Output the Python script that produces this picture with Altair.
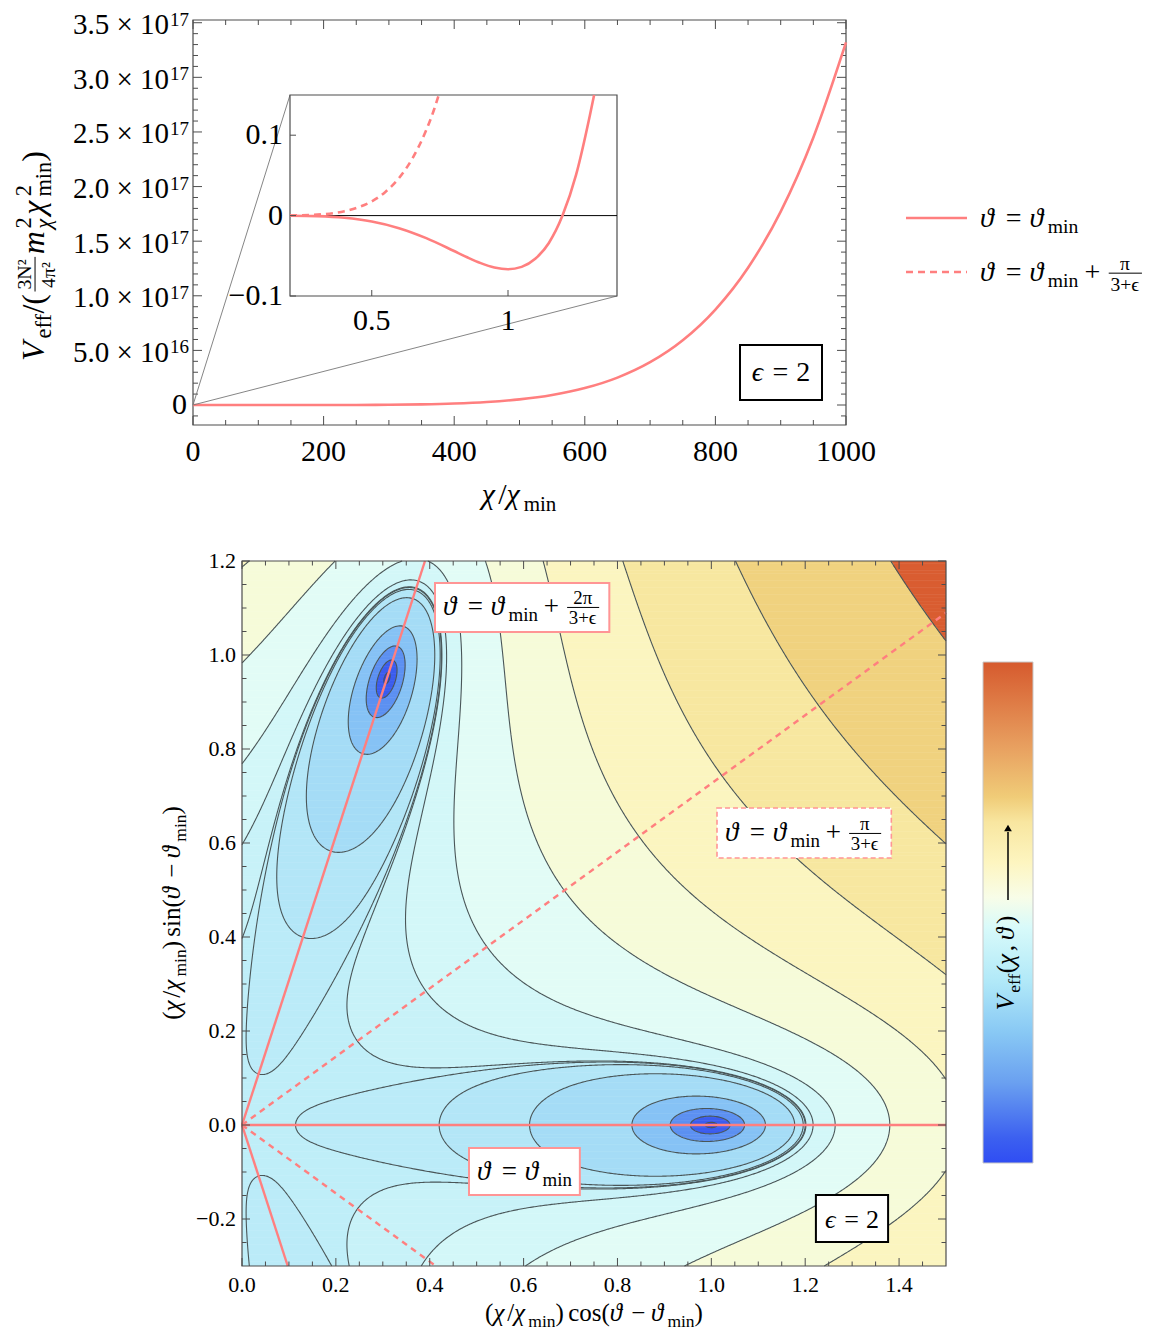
import math
import numpy as np
import pandas as pd
import altair as alt

alt.data_transformers.disable_max_rows()
FONT = "Liberation Serif"
PINK = "#ff7f7f"
FRAME = "#4d4d4d"

# ===================== values =====================
# top panel, main axes: V_eff along theta = theta_min, in units of 1e17
chi_main = [0, 100, 200, 250, 300, 350, 400, 450, 500, 550, 600, 650, 700, 750, 800, 850, 900, 950, 1000]
veff_main = [0.0, 0.0, 0.0002, 0.0008, 0.0024, 0.0061, 0.0137, 0.0277, 0.052, 0.092, 0.155, 0.251,
             0.392, 0.593, 0.874, 1.257, 1.771, 2.450, 3.32]
# inset, theta = theta_min (solid)
chi_inset_a = [0.2, 0.3, 0.4, 0.5, 0.6, 0.7, 0.8, 0.85, 0.9, 0.95, 1.0, 1.05, 1.1, 1.15, 1.2, 1.25, 1.3, 1.316]
veff_inset_a = [-0.0001, -0.0007, -0.0027, -0.0073, -0.0156, -0.0280, -0.0437, -0.0518, -0.0591, -0.0645,
                -0.0667, -0.0638, -0.0537, -0.0340, 0.0, 0.0509, 0.1239, 0.150]
# inset, theta = theta_min + pi/(3+eps) (dashed)
chi_inset_b = [0.2, 0.3, 0.4, 0.45, 0.5, 0.55, 0.6, 0.65, 0.7, 0.73, 0.745]
veff_inset_b = [0.0002, 0.0012, 0.0055, 0.0102, 0.0177, 0.0294, 0.0467, 0.0715, 0.1064, 0.1332, 0.149]

top_x_major = [0, 200, 400, 600, 800, 1000]
top_x_labels = ["0", "200", "400", "600", "800", "1000"]
top_x_minor = [v for v in range(50, 1000, 50) if v % 200]
top_y_major = [0, 0.5, 1.0, 1.5, 2.0, 2.5, 3.0, 3.5]
top_y_base = ["5.0 \u00d7 10", "1.0 \u00d7 10", "1.5 \u00d7 10", "2.0 \u00d7 10", "2.5 \u00d7 10",
              "3.0 \u00d7 10", "3.5 \u00d7 10"]
top_y_exp = ["16", "17", "17", "17", "17", "17", "17"]
top_y_minor = [round(0.1 * k, 1) for k in range(-1, 36) if k % 5]
inset_x_ticks = [0.5, 1.0]
inset_x_labels = ["0.5", "1"]
inset_y_ticks = [0.1, 0.0, -0.1]
inset_y_labels = ["0.1", "0", "\u22120.1"]

# bottom panel: V = C6 chi^6 - C5 chi^5 cos((3+eps) theta)
EPS = 2
N_SYM = 3 + EPS
C6 = 1 / 3      # V(1000) ~ 3.33e17
C5 = 0.4        # minimum -1/15 at chi = 1, zero crossing at chi = 1.2
levels = [-0.0665, -0.0649, -0.0606, -0.0487, -0.0169, -0.0034, -0.000007, 0.0013, 0.015,
          0.0687, 0.301, 0.933, 2.65, 7.32, 20.0]
band_colors = ["#2a3fe6", "#3b5cee", "#5c90f1", "#86c2f5", "#a5dcf6", "#b3e6f7", "#bbebf8", "#bfeef8",
               "#c8f2f8", "#d3f7f8", "#e2fcf6", "#f6fbd9", "#fbf5c0", "#f7e7a0", "#f0d27f", "#d95d31"]
bot_x_major = [0.0, 0.2, 0.4, 0.6, 0.8, 1.0, 1.2, 1.4]
bot_x_labels = ["0.0", "0.2", "0.4", "0.6", "0.8", "1.0", "1.2", "1.4"]
bot_x_minor = [round(0.05 * k, 2) for k in range(1, 30) if k % 4]
bot_y_major = [-0.2, 0.0, 0.2, 0.4, 0.6, 0.8, 1.0, 1.2]
bot_y_labels = ["\u22120.2", "0.0", "0.2", "0.4", "0.6", "0.8", "1.0", "1.2"]
bot_y_minor = [round(0.05 * k, 2) for k in range(-5, 24) if k % 4]
ray_solid_deg = [0, 72, -72]
ray_dashed_deg = [36, -36]
cbar_offsets = [0.0, 0.05, 0.16, 0.26, 0.36, 0.47, 0.53, 0.60, 0.68, 0.73, 0.83, 1.0]
cbar_colors = ["#2f4df3", "#3c60f0", "#6aa0f0", "#88c8f4", "#b0e8f8", "#d8fafa", "#f8fde8",
               "#fdf5c0", "#f8e6a0", "#f0cc78", "#e8a060", "#d65a2e"]

# ===================== canvas (one group; page coords minus 8px margin) =====================
WG, HG = 1147, 1324
TX0, TX1, TY0, TY1 = 185, 838, 12, 417          # top panel frame
IX0, IX1, IY0, IY1 = 282, 609, 87, 288          # inset frame
BX0, BX1, BY0, BY1 = 234, 938, 553, 1258        # bottom panel frame
YT_LO, YT_HI = -0.183, 3.525
sx_top = alt.Scale(domain=[0, 1000], range=[TX0, TX1], nice=False, zero=False)
sy_top = alt.Scale(domain=[YT_LO, YT_HI], range=[TY1, TY0], nice=False, zero=False)
sx_in = alt.Scale(domain=[0.2, 1.4], range=[IX0, IX1], nice=False, zero=False)
sy_in = alt.Scale(domain=[-0.1, 0.15], range=[IY1, IY0], nice=False, zero=False)
sx_b = alt.Scale(domain=[0, 1.5], range=[BX0, BX1], nice=False, zero=False)
sy_b = alt.Scale(domain=[-0.3, 1.2], range=[BY1, BY0], nice=False, zero=False)

# ===================== text composition helper =====================
EM = {' ': 0.25, '.': 0.25, ',': 0.25, '=': 0.564, '+': 0.564, '\u2212': 0.564, '\u00d7': 0.564,
      '(': 0.333, ')': 0.333, '/': 0.278, 'm': 0.778, 'i': 0.278, 'n': 0.5, 'e': 0.444, 'f': 0.333,
      'c': 0.444, 'o': 0.5, 's': 0.389, 'N': 0.722, 'V': 0.68, '\u03c0': 0.55, '\u03c7': 0.55,
      '\u03d1': 0.64, '\u03f5': 0.46, '\u00b2': 0.33}


def wtxt(s, size):
    return sum(EM.get(c, 0.5) for c in s) * size


def compose(parts, x0, y0, S, angle=0, anchor="left", fr=0.7):
    items, bars = [], []
    a = 0.0
    for p in parts:
        k = p[0]
        if k == "t":
            items.append((p[1], p[2], S, a, 0.0))
            a += wtxt(p[1], S)
        elif k == "sp":
            a += p[1] * S
        elif k == "sub":
            sz = 0.7 * S
            items.append((p[1], p[2], sz, a + 0.02 * S, -0.22 * S))
            a += wtxt(p[1], sz) + 0.02 * S
        elif k == "sup":
            sz = 0.7 * S
            items.append((p[1], p[2], sz, a + 0.03 * S, 0.42 * S))
            if p[3]:
                a += wtxt(p[1], sz) + 0.03 * S
        elif k == "frac":
            sz = fr * S
            wn, wd = wtxt(p[1], sz), wtxt(p[2], sz)
            fw = max(wn, wd) + 0.12 * S
            a += 0.08 * S
            items.append((p[1], "n", sz, a + (fw - wn) / 2, 0.41 * S))
            items.append((p[2], "n", sz, a + (fw - wd) / 2, -0.34 * S))
            bars.append((a, a + fw, 0.28 * S))
            a += fw + 0.08 * S
    total = a
    shift = -total / 2 if anchor == "center" else 0.0
    th = math.radians(angle)
    ux, uy = round(math.cos(th), 9), round(math.sin(th), 9)
    vx, vy = round(math.sin(th), 9), round(-math.cos(th), 9)
    rows = [dict(x=x0 + (ai + shift) * ux + up * vx, y=y0 + (ai + shift) * uy + up * vy,
                 text=s, size=sz, angle=angle, style=st) for (s, st, sz, ai, up) in items]
    brs = [dict(x=x0 + (a1 + shift) * ux + up * vx, y=y0 + (a1 + shift) * uy + up * vy,
                x2=x0 + (a2 + shift) * ux + up * vx, y2=y0 + (a2 + shift) * uy + up * vy)
           for (a1, a2, up) in bars]
    return rows, brs, total


def text_layers(rows, bars):
    df = pd.DataFrame(rows)
    out = []
    for st, fs in (("i", "italic"), ("n", "normal")):
        d = df[df["style"] == st]
        if len(d) == 0:
            continue
        out.append(alt.Chart(d).mark_text(font=FONT, fontStyle=fs, align="left", baseline="alphabetic",
                                          color="black").encode(
            x=alt.X("x:Q", scale=None), y=alt.Y("y:Q", scale=None), text="text:N",
            size=alt.Size("size:Q", scale=None, legend=None), angle=alt.Angle("angle:Q", scale=None)))
    if bars:
        out.append(alt.Chart(pd.DataFrame(bars)).mark_rule(color="black", strokeWidth=1).encode(
            x=alt.X("x:Q", scale=None), y=alt.Y("y:Q", scale=None), x2="x2:Q", y2="y2:Q"))
    return out


ONE = pd.DataFrame({"a": [0]})


def vrect(x1, y1, x2, y2, **kw):
    return alt.Chart(ONE).mark_rect(**kw).encode(x=alt.value(x1), x2=alt.value(x2),
                                                 y=alt.value(y1), y2=alt.value(y2))


def vrule(x1, y1, x2, y2, **kw):
    return alt.Chart(ONE).mark_rule(**kw).encode(x=alt.value(x1), x2=alt.value(x2),
                                                 y=alt.value(y1), y2=alt.value(y2))


def xticks(vals, sx, y_edge, L):
    return alt.Chart(pd.DataFrame({"v": vals})).mark_rule(color=FRAME, strokeWidth=1).encode(
        x=alt.X("v:Q", scale=sx, axis=None), y=alt.value(y_edge), y2=alt.value(y_edge + L))


def yticks(vals, sy, x_edge, L):
    return alt.Chart(pd.DataFrame({"v": vals})).mark_rule(color=FRAME, strokeWidth=1).encode(
        y=alt.Y("v:Q", scale=sy, axis=None), x=alt.value(x_edge), x2=alt.value(x_edge + L))


def frame_ticks(sx, sy, x0, x1, y0, y1, xmaj, xmin, ymaj, ymin, Lmaj, Lmin):
    out = []
    for vals, L in ((xmaj, Lmaj), (xmin, Lmin)):
        out += [xticks(vals, sx, y1, -L), xticks(vals, sx, y0, L)]
    for vals, L in ((ymaj, Lmaj), (ymin, Lmin)):
        out += [yticks(vals, sy, x0, L), yticks(vals, sy, x1, -L)]
    return out


def xlabels(vals, labels, sx, y_top, size):
    return alt.Chart(pd.DataFrame({"v": vals, "t": labels})).mark_text(
        font=FONT, fontSize=size, baseline="top", align="center", color="black").encode(
        x=alt.X("v:Q", scale=sx, axis=None), y=alt.value(y_top), text="t:N")


def ylabels(vals, labels, sy, x_right, size, baseline="middle", align="right", **kw):
    return alt.Chart(pd.DataFrame({"v": vals, "t": labels})).mark_text(
        font=FONT, fontSize=size, baseline=baseline, align=align, color="black", **kw).encode(
        y=alt.Y("v:Q", scale=sy, axis=None), x=alt.value(x_right), text="t:N")


def theta_eq(extra=None):
    p = [("t", "\u03d1", "i"), ("sp", 0.28), ("t", "=", "n"), ("sp", 0.28), ("t", "\u03d1", "i"),
         ("sub", "min", "n")]
    if extra:
        p += [("sp", 0.22), ("t", "+", "n"), ("sp", 0.22), ("frac", extra, "3+\u03f5")]
    return p


EPS_PARTS = [("t", "\u03f5", "i"), ("sp", 0.28), ("t", "=", "n"), ("sp", 0.28), ("t", "2", "n")]

layers = []

# ===================== top panel =====================
layers += [vrect(TX0, TY0, TX1, TY1, filled=False, stroke=FRAME, strokeWidth=1.2)]
layers += frame_ticks(sx_top, sy_top, TX0, TX1, TY0, TY1, top_x_major, top_x_minor, top_y_major,
                      top_y_minor, 9, 5)
layers += [
    alt.Chart(pd.DataFrame({"chi": chi_main, "v": veff_main})).mark_line(
        color=PINK, strokeWidth=2.6, interpolate="monotone").encode(
        x=alt.X("chi:Q", scale=sx_top, axis=None), y=alt.Y("v:Q", scale=sy_top, axis=None)),
    xlabels(top_x_major, top_x_labels, sx_top, TY1 + 12, 30),
    ylabels([0], ["0"], sy_top, TX0 - 6, 30),
    ylabels(top_y_major[1:], top_y_base, sy_top, TX0 - 24, 29, baseline="alphabetic", dy=11.5),
    ylabels(top_y_major[1:], top_y_exp, sy_top, TX0 - 23, 19, baseline="alphabetic", align="left", dy=3),
]

# connectors from the main-axes origin to the inset corners (expressed in inset coordinates)
y0px = TY0 + (TY1 - TY0) * (YT_HI - 0) / (YT_HI - YT_LO)
org_x = 0.2 + (TX0 - IX0) / (IX1 - IX0) * 1.2
org_y = -0.1 + (IY1 - y0px) / (IY1 - IY0) * 0.25
enc_in = dict(x=alt.X("x:Q", scale=sx_in, axis=None), y=alt.Y("y:Q", scale=sy_in, axis=None))
layers += [
    alt.Chart(pd.DataFrame({"x": [org_x, org_x], "y": [org_y, org_y], "x2": [0.2, 1.4], "y2": [0.15, -0.1]}))
    .mark_rule(color="#777777", strokeWidth=0.9).encode(x2="x2:Q", y2="y2:Q", **enc_in),
    vrect(IX0, IY0, IX1, IY1, fill="white", stroke=FRAME, strokeWidth=1.2),
    alt.Chart(pd.DataFrame({"x": [0.2], "y": [0.0], "x2": [1.4]})).mark_rule(
        color="black", strokeWidth=1).encode(x2="x2:Q", **enc_in),
    alt.Chart(pd.DataFrame({"x": chi_inset_a, "y": veff_inset_a})).mark_line(
        color=PINK, strokeWidth=2.6, interpolate="monotone").encode(**enc_in),
    alt.Chart(pd.DataFrame({"x": chi_inset_b, "y": veff_inset_b})).mark_line(
        color=PINK, strokeWidth=2.6, strokeDash=[7, 5], interpolate="monotone").encode(**enc_in),
    xticks(inset_x_ticks, sx_in, IY1, -6),
    yticks(inset_y_ticks, sy_in, IX0, 6),
    xlabels(inset_x_ticks, inset_x_labels, sx_in, IY1 + 10, 30),
    ylabels(inset_y_ticks, inset_y_labels, sy_in, IX0 - 7, 30),
]

t_rows, t_bars = [], []
for parts, x0, y0, S, ang, anc, fr in [
    ([("t", "\u03c7", "i"), ("t", "/", "n"), ("t", "\u03c7", "i"), ("sub", "min", "n")], 511, 496, 30, 0,
     "center", 0.7),
    ([("t", "V", "i"), ("sub", "eff", "n"), ("t", "/(", "n"), ("frac", "3N\u00b2", "4\u03c0\u00b2"),
      ("t", "m", "i"), ("sup", "2", "n", False), ("sub", "\u03c7", "i"), ("sp", 0.05),
      ("t", "\u03c7", "i"), ("sup", "2", "n", False), ("sub", "min", "n"), ("t", ")", "n")],
     36, 248, 32, 270, "center", 0.62),
    (theta_eq(), 972, 219, 28, 0, "left", 0.7),
    (theta_eq("\u03c0"), 972, 273, 28, 0, "left", 0.7),
    (EPS_PARTS, 773, 373, 28, 0, "center", 0.7),
]:
    r, b, _ = compose(parts, x0, y0, S, angle=ang, anchor=anc, fr=fr)
    t_rows += r
    t_bars += b

layers += [
    vrect(732, 337, 814, 392, fill="white", stroke="black", strokeWidth=2),
    vrule(898, 210, 959, 210, color=PINK, strokeWidth=2.6),
    vrule(898, 264, 959, 264, color=PINK, strokeWidth=2.6, strokeDash=[7, 5]),
]


# ===================== bottom panel =====================
def potential(x, y):
    rr = np.hypot(x, y)
    th = np.arctan2(y, x)
    return C6 * rr ** 6 - C5 * rr ** 5 * np.cos(N_SYM * th)


# filled bands (run-length rectangles)
NXF, NYF = 750, 500
dxf, dyf = 1.5 / NXF, 1.5 / NYF
xc = (np.arange(NXF) + 0.5) * dxf
yc = -0.3 + (np.arange(NYF) + 0.5) * dyf
XF, YF = np.meshgrid(xc, yc)
band = np.searchsorted(np.array(levels), potential(XF, YF))
ov = 0.0012
recs = []
for j in range(NYF):
    bj = band[j]
    cuts = np.flatnonzero(np.diff(bj)) + 1
    starts = np.r_[0, cuts]
    ends = np.r_[cuts, NXF]
    for s, e in zip(starts, ends):
        recs.append((round(s * dxf, 5), round(min(e * dxf + ov, 1.5), 5),
                     round(yc[j] - dyf / 2, 5), round(min(yc[j] + dyf / 2 + ov, 1.2), 5), int(bj[s])))
df_band = pd.DataFrame(recs, columns=["x1", "x2", "y1", "y2", "band"])


# contour lines (marching squares, chained into paths)
def contour_paths(F, xs, ys, level):
    f = F - level
    bb = f > 0
    ny, nx = f.shape
    dx, dy = xs[1] - xs[0], ys[1] - ys[0]
    ch = bb[:, :-1] != bb[:, 1:]
    th = np.where(ch, f[:, :-1] / np.where(ch, f[:, :-1] - f[:, 1:], 1.0), 0.0)
    hx = (xs[:-1][None, :] + th * dx).ravel()
    hy = np.repeat(ys, nx - 1)
    cv = bb[:-1, :] != bb[1:, :]
    tv = np.where(cv, f[:-1, :] / np.where(cv, f[:-1, :] - f[1:, :], 1.0), 0.0)
    vy = (ys[:-1][:, None] + tv * dy).ravel()
    vx = np.tile(xs, ny - 1)
    px = np.concatenate([hx, vx])
    py = np.concatenate([hy, vy])
    NH = ny * (nx - 1)
    jj, ii = np.mgrid[0:ny - 1, 0:nx - 1]
    idB = jj * (nx - 1) + ii
    idT = (jj + 1) * (nx - 1) + ii
    idL = NH + jj * nx + ii
    idR = idL + 1
    B, T, L, R = ch[:-1, :], ch[1:, :], cv[:, :-1], cv[:, 1:]
    cnt = B.astype(np.int8) + T + L + R
    E = [(B, idB), (T, idT), (L, idL), (R, idR)]
    segs = []
    two = cnt == 2
    for a in range(4):
        for c in range(a + 1, 4):
            m = two & E[a][0] & E[c][0]
            if m.any():
                segs.append(np.stack([E[a][1][m], E[c][1][m]], 1))
    four = cnt == 4
    if four.any():
        cen = (f[:-1, :-1] + f[:-1, 1:] + f[1:, :-1] + f[1:, 1:]) / 4
        same = (cen > 0) == bb[:-1, :-1]
        m = four & same
        segs += [np.stack([idB[m], idR[m]], 1), np.stack([idL[m], idT[m]], 1)]
        m = four & ~same
        segs += [np.stack([idB[m], idL[m]], 1), np.stack([idT[m], idR[m]], 1)]
    if not segs:
        return []
    Sl = np.concatenate(segs).tolist()
    adj = {}
    for k, (p, q) in enumerate(Sl):
        adj.setdefault(p, []).append(k)
        adj.setdefault(q, []).append(k)
    used = [False] * len(Sl)

    def walk(node):
        out = []
        while True:
            nxt = -1
            for k in adj[node]:
                if not used[k]:
                    nxt = k
                    break
            if nxt < 0:
                break
            used[nxt] = True
            p, q = Sl[nxt]
            node = q if p == node else p
            out.append(node)
        return out

    paths = []
    for k in range(len(Sl)):
        if used[k]:
            continue
        used[k] = True
        p, q = Sl[k]
        fwd = walk(q)
        bwd = walk(p)
        chain = bwd[::-1] + [p, q] + fwd
        paths.append((px[chain], py[chain]))
    return paths


NC = 501
xs_c = np.linspace(0, 1.5, NC)
ys_c = np.linspace(-0.3, 1.2, NC)
XC, YC = np.meshgrid(xs_c, ys_c)
FC = potential(XC, YC)
crow = []
pid = 0
for lev in levels:
    for (lx, ly) in contour_paths(FC, xs_c, ys_c, lev):
        for k in range(len(lx)):
            crow.append((pid, k, round(float(lx[k]), 5), round(float(ly[k]), 5)))
        pid += 1
df_cont = pd.DataFrame(crow, columns=["id", "k", "x", "y"])

# rays from the origin to the frame edge
rrows = []
for dash, angs in ((0, ray_solid_deg), (1, ray_dashed_deg)):
    for a in angs:
        c, s = math.cos(math.radians(a)), math.sin(math.radians(a))
        ts = [1.5 / c] if c > 1e-9 else []
        if s > 1e-9:
            ts.append(1.2 / s)
        if s < -1e-9:
            ts.append(-0.3 / s)
        t = min(ts)
        rrows.append(dict(ray=f"{dash}_{a}", dash=dash, k=0, x=0.0, y=0.0))
        rrows.append(dict(ray=f"{dash}_{a}", dash=dash, k=1, x=t * c, y=t * s))
df_ray = pd.DataFrame(rrows)

enc_b = dict(x=alt.X("x:Q", scale=sx_b, axis=None), y=alt.Y("y:Q", scale=sy_b, axis=None))
layers += [
    alt.Chart(df_band).mark_rect().encode(
        x=alt.X("x1:Q", scale=sx_b, axis=None), x2="x2:Q",
        y=alt.Y("y1:Q", scale=sy_b, axis=None), y2="y2:Q",
        color=alt.Color("band:O", scale=alt.Scale(domain=list(range(len(band_colors))), range=band_colors),
                        legend=None)),
    alt.Chart(df_cont).mark_line(color="#4a5658", strokeWidth=1.1, strokeJoin="round").encode(
        detail="id:N", order="k:Q", **enc_b),
    alt.Chart(df_ray[df_ray["dash"] == 0]).mark_line(color=PINK, strokeWidth=2.4).encode(
        detail="ray:N", order="k:Q", **enc_b),
    alt.Chart(df_ray[df_ray["dash"] == 1]).mark_line(color=PINK, strokeWidth=2.4, strokeDash=[6, 5]).encode(
        detail="ray:N", order="k:Q", **enc_b),
    vrect(BX0, BY0, BX1, BY1, filled=False, stroke=FRAME, strokeWidth=1.2),
]
layers += frame_ticks(sx_b, sy_b, BX0, BX1, BY0, BY1, bot_x_major, bot_x_minor, bot_y_major, bot_y_minor,
                      8, 4.5)
layers += [
    xlabels(bot_x_major, bot_x_labels, sx_b, BY1 + 9, 22),
    ylabels(bot_y_major, bot_y_labels, sy_b, BX0 - 6, 22),
]

b_rows, b_bars = [], []
r, b, _ = compose([("t", "(", "n"), ("t", "\u03c7", "i"), ("t", "/", "n"), ("t", "\u03c7", "i"),
                   ("sub", "min", "n"), ("t", ")", "n"), ("sp", 0.17), ("t", "cos(", "n"),
                   ("t", "\u03d1", "i"), ("sp", 0.22), ("t", "\u2212", "n"), ("sp", 0.22),
                   ("t", "\u03d1", "i"), ("sub", "min", "n"), ("t", ")", "n")], 586, 1313, 25, anchor="center")
b_rows += r; b_bars += b
r, b, _ = compose([("t", "(", "n"), ("t", "\u03c7", "i"), ("t", "/", "n"), ("t", "\u03c7", "i"),
                   ("sub", "min", "n"), ("t", ")", "n"), ("sp", 0.17), ("t", "sin(", "n"),
                   ("t", "\u03d1", "i"), ("sp", 0.22), ("t", "\u2212", "n"), ("sp", 0.22),
                   ("t", "\u03d1", "i"), ("sub", "min", "n"), ("t", ")", "n")], 172, 905, 25, angle=270,
                  anchor="center")
b_rows += r; b_bars += b
r1, bb1, w1 = compose(theta_eq("2\u03c0"), 435, 607, 27)
r2, bb2, w2 = compose(theta_eq("\u03c0"), 717, 833, 27)
r3, bb3, w3 = compose(theta_eq(), 469, 1172, 27)
r4, bb4, w4 = compose(EPS_PARTS, 844, 1220, 26, anchor="center")
r5, bb5, w5 = compose([("t", "V", "i"), ("sub", "eff", "n"), ("t", "(", "n"), ("t", "\u03c7", "i"),
                       ("t", ",", "n"), ("sp", 0.2), ("t", "\u03d1", "i"), ("t", ")", "n")], 1006, 955, 25,
                      angle=270, anchor="center")
for rr_, bb_ in ((r1, bb1), (r2, bb2), (r3, bb3), (r4, bb4), (r5, bb5)):
    b_rows += rr_
    b_bars += bb_

BOXPINK = "#ff9595"
layers += [
    vrect(435 - 8, 575, 435 + w1 + 8, 624, fill="white", stroke=BOXPINK, strokeWidth=2),
    vrect(717 - 8, 800, 717 + w2 + 8, 850, fill="white", stroke=BOXPINK, strokeWidth=1.6, strokeDash=[5, 3]),
    vrect(469 - 8, 1140, 469 + w3 + 8, 1187, fill="white", stroke=BOXPINK, strokeWidth=2),
    vrect(844 - w4 / 2 - 9, 1187, 844 + w4 / 2 + 9, 1234, fill="white", stroke="black", strokeWidth=2),
    alt.Chart(ONE).mark_rect(
        color=alt.Gradient(gradient="linear", x1=0, x2=0, y1=1, y2=0,
                           stops=[alt.GradientStop(offset=o, color=c) for o, c in zip(cbar_offsets, cbar_colors)]),
        stroke="#c8c8c8", strokeWidth=1).encode(x=alt.value(975), x2=alt.value(1025), y=alt.value(654),
                                                y2=alt.value(1155)),
    vrule(1000, 892, 1000, 824, color="black", strokeWidth=1.5),
    alt.Chart(ONE).mark_point(shape="triangle-up", filled=True, size=60, color="black", opacity=1).encode(
        x=alt.value(1000), y=alt.value(820)),
]
layers += text_layers(t_rows + b_rows, t_bars + b_bars)

chart = alt.layer(*layers).resolve_scale(x="independent", y="independent").properties(
    width=WG, height=HG, padding=0).configure_view(strokeWidth=0)
chart.save("out.html", embed_options={"renderer": "svg", "actions": False})
